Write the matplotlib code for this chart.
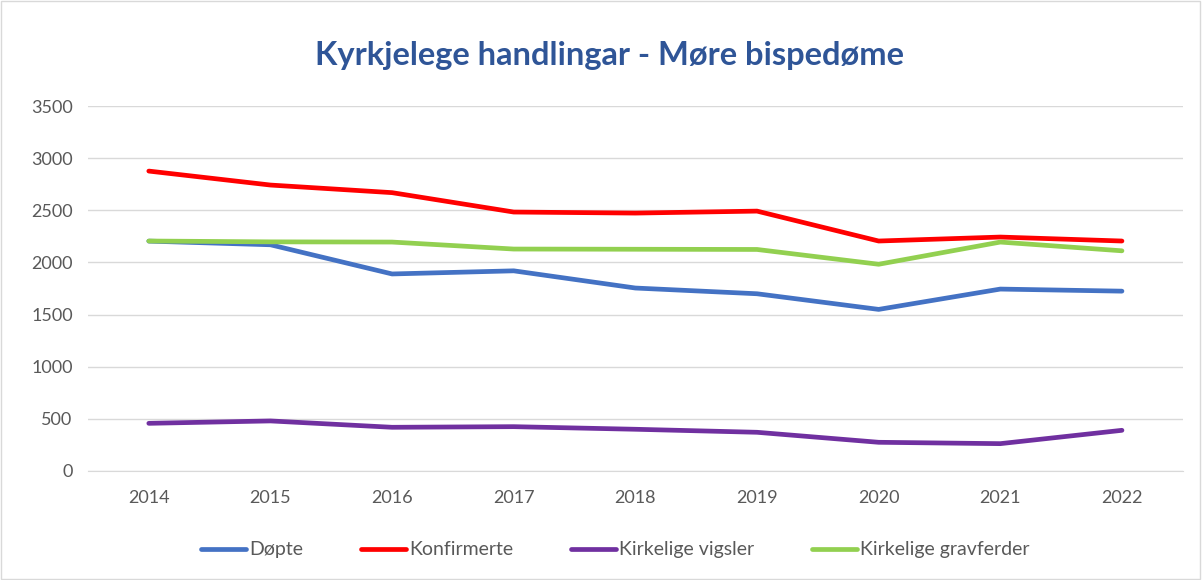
import matplotlib
matplotlib.use('Agg')
import matplotlib.pyplot as plt
from matplotlib.patches import Rectangle

years = ['2014', '2015', '2016', '2017', '2018', '2019', '2020', '2021', '2022']
dopte = [2205, 2170, 1890, 1920, 1755, 1700, 1550, 1745, 1725]
konfirmerte = [2877, 2743, 2670, 2484, 2474, 2493, 2206, 2244, 2206]
vigsler = [457, 480, 419, 425, 400, 371, 275, 262, 390]
gravferder = [2206, 2198, 2196, 2129, 2127, 2125, 1983, 2196, 2112]

series = [
	('Døpte', dopte, '#4472C4'),
	('Konfirmerte', konfirmerte, '#FF0000'),
	('Kirkelige vigsler', vigsler, '#7030A0'),
	('Kirkelige gravferder', gravferder, '#92D050'),
]

plt.rcParams['font.family'] = ['Lato', 'DejaVu Sans']

fig = plt.figure(figsize=(12.02, 5.8), dpi=100)
ax = fig.add_axes([0.0732, 0.188, 0.9108, 0.629])

x = range(len(years))
for name, vals, color in series:
	ax.plot(x, vals, color=color, lw=3.4, label=name, solid_capstyle='round', solid_joinstyle='round')

ax.set_xlim(-0.5, len(years) - 0.5)
ax.set_ylim(0, 3500)
ax.set_yticks(range(0, 3501, 500))
ax.set_xticks(list(x))
ax.set_xticklabels(years)
ax.grid(axis='y', color='#D9D9D9', lw=1)
ax.set_axisbelow(True)
for s in ['top', 'right', 'left']:
	ax.spines[s].set_visible(False)
ax.spines['bottom'].set_color('#D9D9D9')
ax.tick_params(axis='both', length=0, colors='#595959', labelsize=13)
ax.tick_params(axis='x', pad=14)
ax.tick_params(axis='y', pad=11)

fig.text(0.507, 0.905, 'Kyrkjelege handlingar - Møre bispedøme', ha='center', va='center',
	fontsize=23.5, fontweight='bold', color='#2F5597')

fig.legend(loc='center', bbox_to_anchor=(0.512, 0.052), ncol=4, frameon=False,
	fontsize=14, handlelength=2.3, handletextpad=0.15, columnspacing=3.0, labelcolor='#595959')

fig.patches.append(Rectangle((0.001, 0.001), 0.997, 0.997, transform=fig.transFigure,
	fill=False, edgecolor='#D9D9D9', lw=1))

fig.savefig('out.png', dpi=100)
